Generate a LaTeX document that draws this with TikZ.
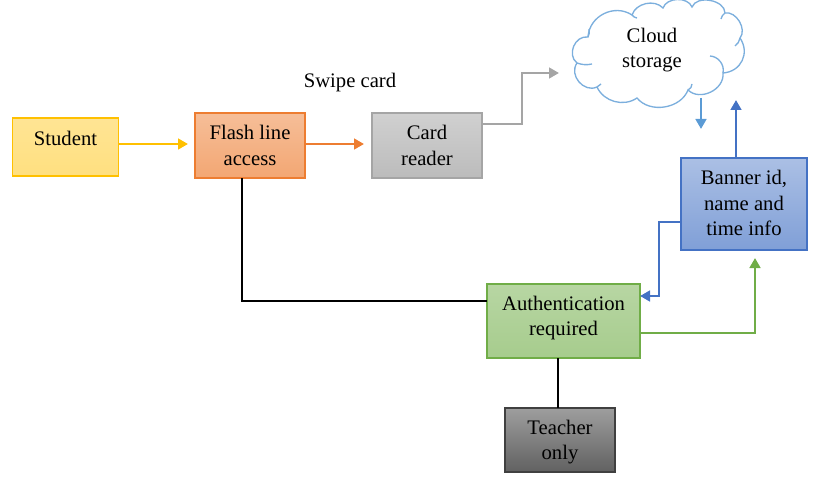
\documentclass[tikz,border=0pt]{standalone}
\usepackage{fontspec}
\setmainfont{Liberation Serif}
\usetikzlibrary{arrows.meta}
\definecolor{studentline}{HTML}{FFC000}
\definecolor{flashline}{HTML}{ED7D31}
\definecolor{cardline}{HTML}{A5A5A5}
\definecolor{bannerline}{HTML}{4472C4}
\definecolor{authline}{HTML}{70AD47}
\definecolor{cloudline}{HTML}{5B9BD5}
\tikzset{
  flowtext/.style={font=\fontsize{15.5}{18.9}\selectfont},
  flowbox/.style={draw, line width=0.9pt, align=center, inner sep=0pt, flowtext},
  flowline/.style={line width=2.1pt},
  flowarrow/.style={flowline, -{Triangle[length=7.5pt,width=8pt]}},
  cloudpen/.style={cloudline!80, line width=1pt},
}
\begin{document}
\begin{tikzpicture}[x=0.75pt,y=-0.75pt]
    \useasboundingbox (0,0) rectangle (818,485);

    \node[flowbox, draw=studentline, top color=studentline!42, bottom color=studentline!50, minimum width=80pt, minimum height=43.5pt, text depth=13pt] (student) at (65.5,147) {Student};
    \node[flowbox, draw=flashline, top color=flashline!50, bottom color=flashline!68, minimum width=82.5pt, minimum height=48.75pt] (flash) at (250,145.5) {Flash line\\access};
    \node[flowbox, draw=cardline, top color=cardline!52, bottom color=cardline!75, minimum width=82.5pt, minimum height=48.75pt] (card) at (427,145.5) {Card\\reader};
    \node[flowbox, draw=bannerline, top color=bannerline!45, bottom color=bannerline!68, minimum width=94.5pt, minimum height=69pt, text depth=1.5pt] (banner) at (744,204) {Banner id,\\name and\\time info};
    \node[flowbox, draw=authline, top color=authline!50, bottom color=authline!62, minimum width=114.75pt, minimum height=55.5pt, text depth=7.5pt] (auth) at (563.5,321) {Authentication\\required};
    \node[flowbox, draw=black!75, top color=black!38, bottom color=black!62, minimum width=82.5pt, minimum height=48pt, text depth=0pt] (teacher) at (560,440) {Teacher\\only};
    \node[flowtext, inner sep=0pt] (swipe) at (350,83) {Swipe card};

    % cloud outline, lobe by lobe
    \draw[cloudpen, fill=white]
        (577,63) to[bend right=75,looseness=1.2] (597,87)
        to[bend right=50] (637,98)
        to[bend right=60] (688,90)
        to[bend right=70,looseness=1.1] (723,73)
        to[bend right=60,looseness=1.2] (740,38)
        to[bend right=70] (725,13)
        to[bend right=80] (692,7)
        to[bend right=70] (663,8)
        to[bend right=60] (632,15)
        to[bend right=60,looseness=1.1] (588,37)
        to[bend right=75,looseness=1.2] (577,63);
    \draw[cloudpen] (577,63) to[bend right=15] (592,64);
    \draw[cloudpen] (597,87) to[bend right=15] (601,84);
    \draw[cloudpen] (688,90) to[bend right=30] (692,84);
    \draw[cloudpen] (710,56) to[bend left=50] (723,73);
    \draw[cloudpen] (740,38) to[bend left=20] (735,46);
    \draw[cloudpen] (725,13) to[bend right=20] (721,19);
    \draw[cloudpen] (632,15) to[bend right=20] (637,18);
    \draw[cloudpen] (588,37) to[bend right=20] (589,29);
    \node[flowtext, align=center, inner sep=0pt] (cloud) at (652,50) {Cloud\\storage};

    \coordinate (studentout) at (119,144);
    \coordinate (flashin) at (188,144);
    \coordinate (flashout) at (305,144);
    \coordinate (cardin) at (364,144);
    \coordinate (cardout) at (482,124);
    \coordinate (cloudin) at (559,73);
    \coordinate (cloudout) at (701,98);
    \coordinate (cloudback) at (701,129);
    \coordinate (bannertop) at (736,158);
    \coordinate (cloudret) at (736,100);
    \coordinate (bannerleft) at (681,222);
    \coordinate (authin) at (640,296);
    \coordinate (authout) at (640,333);
    \coordinate (bannerin) at (755,258);
    \coordinate (flashdown) at (242,178);
    \coordinate (authleft) at (487,301);
    \coordinate (authdown) at (558,358);
    \coordinate (teachertop) at (558,408);

    \draw[flowarrow, studentline] (studentout) -- (flashin);
    \draw[flowarrow, flashline] (flashout) -- (cardin);
    \draw[flowarrow, cardline] (cardout) -| (522,73) -- (cloudin);
    \draw[flowarrow, cloudline] (cloudout) -- (cloudback);
    \draw[flowarrow, bannerline] (bannertop) -- (cloudret);
    \draw[flowarrow, bannerline] (bannerleft) -| (659,296) -- (authin);
    \draw[flowarrow, authline] (authout) -| (bannerin);
    \draw[flowline, black] (flashdown) |- (authleft);
    \draw[flowline, black] (authdown) -- (teachertop);
\end{tikzpicture}
\end{document}
